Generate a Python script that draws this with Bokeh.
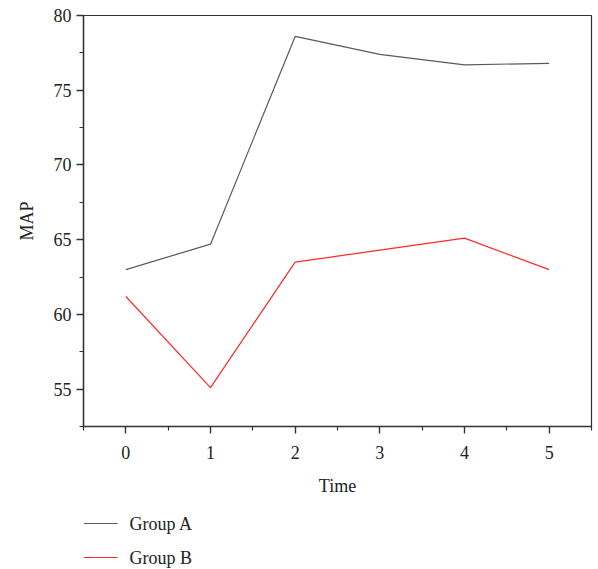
from bokeh.plotting import figure
from bokeh.layouts import column
from bokeh.models import FixedTicker, Range1d
from bokeh.core.properties import value
from bokeh.embed import file_html
from bokeh.resources import INLINE

time = [0, 1, 2, 3, 4, 5]
group_a = [63.0, 64.7, 78.6, 77.4, 76.7, 76.8]
group_b = [61.2, 55.1, 63.5, 64.3, 65.1, 63.0]
x_ticks = [0, 1, 2, 3, 4, 5]
y_ticks = [55, 60, 65, 70, 75, 80]
series_names = ["Group A", "Group B"]
series_colors = ["#5a5a5a", "#ff2a2a"]

FONT = "Liberation Serif"
AX = "#333333"

p = figure(frame_width=508, frame_height=411, output_backend="svg", toolbar_location=None,
           x_range=Range1d(-0.5, 5.5), y_range=Range1d(52.5, 80),
           min_border_left=83, min_border_right=7, min_border_top=15, min_border_bottom=74)
p.grid.visible = False
p.outline_line_color = AX
p.outline_line_width = 1.2
p.background_fill_color = "white"
p.border_fill_color = "white"

p.line(time, group_a, line_color=series_colors[0], line_width=1.2)
p.line(time, group_b, line_color=series_colors[1], line_width=1.2)

p.xaxis.ticker = FixedTicker(ticks=x_ticks, minor_ticks=[-0.5 + i for i in range(7)])
p.yaxis.ticker = FixedTicker(ticks=y_ticks, minor_ticks=[52.5 + 5 * i for i in range(6)])

for ax in (p.xaxis[0], p.yaxis[0]):
    ax.axis_line_color = AX
    ax.axis_line_width = 1.4
    ax.major_tick_line_color = AX
    ax.minor_tick_line_color = AX
    ax.major_tick_line_width = 1.4
    ax.minor_tick_line_width = 1.2
    ax.major_tick_in = 0
    ax.major_tick_out = 7
    ax.minor_tick_in = 0
    ax.minor_tick_out = 4
    ax.major_label_text_font = FONT
    ax.major_label_text_font_size = "18px"
    ax.major_label_text_color = "#222222"
    ax.axis_label_text_font = FONT
    ax.axis_label_text_font_size = "18px"
    ax.axis_label_text_font_style = "normal"
    ax.axis_label_text_color = "#222222"

p.xaxis.axis_label = "Time"
p.yaxis.axis_label = "MAP"
p.xaxis.major_label_standoff = 12
p.xaxis.axis_label_standoff = 14
p.yaxis.major_label_standoff = 5
p.yaxis.axis_label_standoff = 14

# legend key: one strip per series, placed under the chart (pixel-unit ranges)
SWATCH_W = 34
LABEL_GAP = 12


def legend_strip(name, color, height, mid):
    f = figure(width=598, height=height, output_backend="svg", toolbar_location=None,
               x_range=Range1d(0, 508), y_range=Range1d(0, height),
               min_border=0, min_border_left=0, min_border_right=0,
               min_border_top=0, min_border_bottom=0)
    f.axis.visible = False
    f.grid.visible = False
    f.outline_line_color = None
    f.background_fill_color = "white"
    f.border_fill_color = "white"
    f.line([0, SWATCH_W], [mid, mid], line_color=color, line_width=1.2)
    f.text(x=[SWATCH_W + LABEL_GAP], y=[mid], text=[name], text_baseline="middle",
           text_align="left", text_font=value(FONT), text_font_size="18px",
           text_color="#222222")
    return f


p2 = legend_strip(series_names[0], series_colors[0], 34, 11)
p3 = legend_strip(series_names[1], series_colors[1], 35, 12)

layout = column(p, p2, p3, spacing=0)
open("out.html", "w").write(file_html(layout, INLINE))
